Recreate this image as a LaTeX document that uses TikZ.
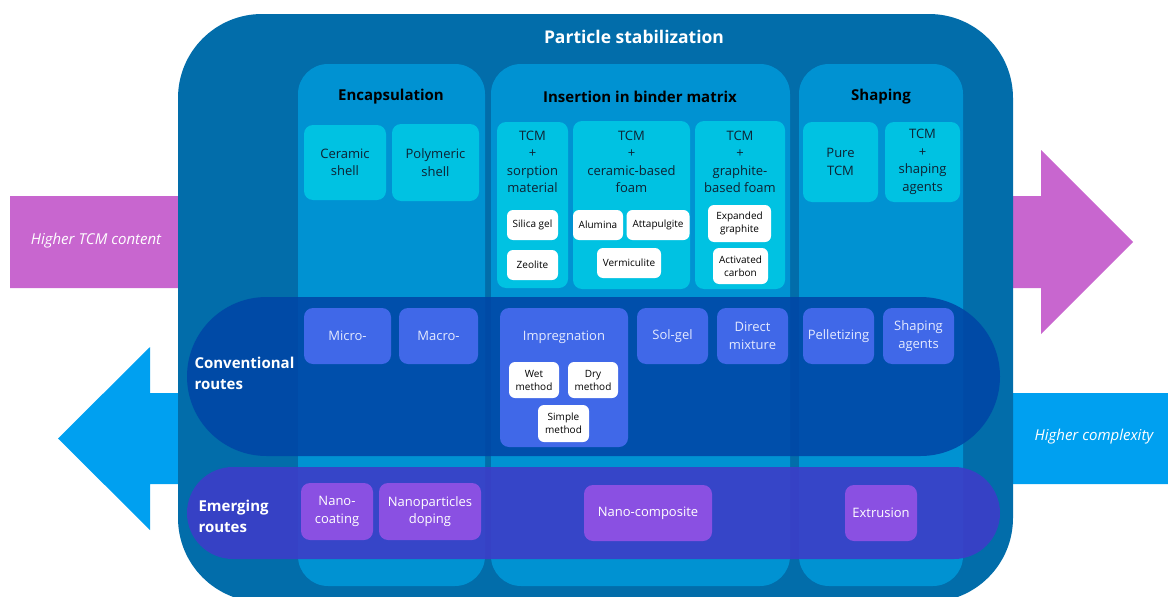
\documentclass[tikz,border=0pt]{standalone}
\usepackage{fontspec}
\setmainfont{Open Sans}
\usetikzlibrary{positioning}

\begin{document}
\begin{tikzpicture}[x=1pt,y=-1pt,
  sz/.style 2 args={minimum width=#1pt,minimum height=#2pt},
  tile/.style={rounded corners=9pt,inner sep=0pt,align=center,font=\fontsize{13}{17.5}\selectfont},
  shell/.style={tile,fill=tcmcyan,text=ink},
  shelltext/.style={align=center,text=ink,font=\fontsize{13}{17.5}\selectfont},
  material/.style={tile,rounded corners=6pt,fill=white,text=black,font=\fontsize{10}{13}\selectfont},
  route/.style={tile,fill=routeblue,text=routetext},
  novel/.style={tile,fill=novelpurple,text=white},
  familybox/.style={fill=colblue,rounded corners=30pt},
  heading/.style={font=\fontsize{15}{18}\selectfont\bfseries},
  bandlabel/.style={align=left,anchor=west,text=white,font=\fontsize{15}{21}\selectfont\bfseries},
  trend/.style={text=white,font=\fontsize{15}{18}\selectfont\itshape}]
\definecolor{outerblue}{HTML}{026DAA} \definecolor{colblue}{HTML}{0092D2}
\definecolor{tcmcyan}{HTML}{00C2E2} \definecolor{ink}{HTML}{0E2233}
\definecolor{convband}{HTML}{0046A6} \definecolor{emergband}{HTML}{3C3DC8}
\definecolor{routeblue}{HTML}{4068E8} \definecolor{routetext}{HTML}{E4EAFF}
\definecolor{novelpurple}{HTML}{8A50E2}
\definecolor{tcmarrow}{HTML}{C866CF} \definecolor{cplxarrow}{HTML}{00A0F0}
\useasboundingbox (0,0) rectangle (1168,597);
\clip (0,0) rectangle (1168,597);
% trend arrows
\fill[tcmarrow] (10,196) -- (1041,196) -- (1041,150) -- (1133,242) -- (1041,334) -- (1041,288) -- (10,288) -- cycle;
\fill[cplxarrow] (1168,393) -- (150,393) -- (150,347) -- (58,438.5) -- (150,530) -- (150,484) -- (1168,484) -- cycle;
\node[trend] (tcmtxt) at (96,241) {Higher TCM content};
\node[trend] (cplxtxt) at (1094,437) {Higher complexity};
% particle stabilization
\fill[outerblue] (178,14) [rounded corners=84pt] rectangle (1013,602);
\node[heading,text=white,font=\fontsize{17.5}{20}\selectfont\bfseries] (stab) at (634,37) {Particle stabilization};
\fill[familybox] (298,64) rectangle (485,586);
\fill[familybox] (491,64) rectangle (790,586);
\fill[familybox] (799,64) rectangle (963,586);
\node[heading] (encap) at (391,97) {Encapsulation};
\node[heading] (insert) at (640,97) {Insertion in binder matrix};
\node[heading] (shaping) at (881,97) {Shaping};
% encapsulation shells
\node[shell,sz={82}{75}] (ceramic) at (345,162.5) {Ceramic\\shell};
\node[shell,sz={87}{77}] (polymer) at (435.5,162.5) {Polymeric\\shell};
% binder matrix
\node[shell,sz={71}{166}] (sorp) at (532.5,205) {};
\node[shelltext] (sorptxt) at (532.5,162) {TCM\\+\\sorption\\material};
\node[shell,sz={117}{168}] (cfoam) at (631.5,205) {};
\node[shelltext] (cfoamtxt) at (631.5,162) {TCM\\+\\ceramic-based\\foam};
\node[shell,sz={90}{168}] (gfoam) at (740,205) {};
\node[shelltext] (gfoamtxt) at (740,162) {TCM\\+\\graphite-\\based foam};
\node[material,sz={51}{30}] (silica) at (532.5,225) {Silica gel};
\node[material,sz={51}{30}] (zeolite) at (532.5,265) {Zeolite};
\node[material,sz={50}{30}] (alumina) at (598,225) {Alumina};
\node[material,sz={63}{30}] (attap) at (658,225) {Attapulgite};
\node[material,sz={64}{30}] (vermic) at (629,263) {Vermiculite};
\node[material,sz={63}{37}] (expgr) at (739.5,223.5) {Expanded\\graphite};
\node[material,sz={55}{36}] (actc) at (740.5,266) {Activated\\carbon};
% shaping
\node[shell,sz={75}{80}] (pure) at (840.5,162) {Pure\\TCM};
\node[shell,sz={75}{80}] (agents) at (922.5,162) {TCM\\+\\shaping\\agents};
% conventional routes
\fill[convband,fill opacity=.88] (187,297) [rounded corners=79.5pt] rectangle (1000,456);
\node[bandlabel] (convlab) at (191,373.5) {Conventional\\routes};
\node[route,sz={87}{56}] (micro) at (347.5,336) {Micro-};
\node[route,sz={79}{56}] (macro) at (438.5,336) {Macro-};
\node[route,sz={128}{139}] (impreg) at (564,377.5) {};
\node[text=routetext,font=\fontsize{13}{17.5}\selectfont] (impregtxt) at (564,337) {Impregnation};
\node[material,sz={50}{36}] (wet) at (534,380) {Wet\\method};
\node[material,sz={50}{36}] (dry) at (593,380) {Dry\\method};
\node[material,sz={51}{37}] (simple) at (563.5,423.5) {Simple\\method};
\node[route,sz={71}{56}] (solgel) at (672.5,336) {Sol-gel};
\node[route,sz={71}{56}] (direct) at (752.5,336) {Direct\\mixture};
\node[route,sz={71}{56}] (pellet) at (838.5,336) {Pelletizing};
\node[route,sz={71}{56}] (shagents) at (918.5,336) {Shaping\\agents};
% emerging routes
\fill[emergband,fill opacity=.9] (187,467) [rounded corners=46pt] rectangle (1000,559);
\node[bandlabel] (emlab) at (195,516.5) {Emerging\\routes};
\node[novel,sz={72}{57}] (nanocoat) at (337,511.5) {Nano-\\coating};
\node[novel,sz={102}{57}] (nanodope) at (430,511.5) {Nanoparticles\\doping};
\node[novel,sz={128}{56}] (nanocomp) at (648,513) {Nano-composite};
\node[novel,sz={72}{56}] (extr) at (881,513) {Extrusion};
\end{tikzpicture}
\end{document}
